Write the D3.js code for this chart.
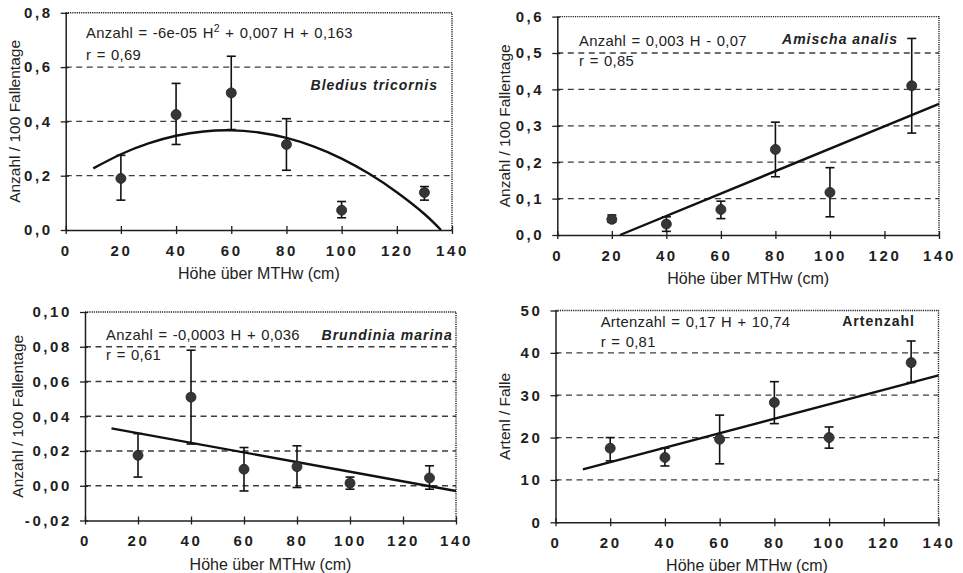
<!DOCTYPE html>
<html><head><meta charset="utf-8">
<script src="https://cdn.jsdelivr.net/npm/d3@7/dist/d3.min.js"></script>
<style>
html,body{margin:0;padding:0;background:#fff;}
svg{display:block;font-family:"Liberation Sans",Arial,sans-serif;}
</style></head>
<body>
<svg id="chart" width="963" height="573"></svg>
<script>
// ---------- data ----------
const heights = [20, 40, 60, 80, 100, 130];
const xTickValues = [0, 20, 40, 60, 80, 100, 120, 140];
const xTitle = "Höhe über MTHw (cm)";

// Bledius tricornis
const blediusMean = [0.19, 0.425, 0.505, 0.315, 0.073, 0.138];
const blediusLow  = [0.11, 0.315, 0.37, 0.22, 0.045, 0.11];
const blediusHigh = [0.275, 0.54, 0.64, 0.41, 0.105, 0.16];
const blediusFitH = [10, 20, 30, 40, 50, 60, 70, 80, 90, 100, 110, 120, 130, 136];
const blediusFitY = [0.227, 0.279, 0.319, 0.347, 0.363, 0.367, 0.359, 0.339, 0.307, 0.263, 0.207, 0.139, 0.059, 0.0];
const blediusYTicks = [0, 0.2, 0.4, 0.6, 0.8];

// Amischa analis
const amischaMean = [0.043, 0.03, 0.07, 0.235, 0.117, 0.41];
const amischaLow  = [0.035, 0.01, 0.045, 0.16, 0.05, 0.28];
const amischaHigh = [0.055, 0.05, 0.093, 0.31, 0.185, 0.54];
const amischaFitH = [23, 140];
const amischaFitY = [0.0, 0.36];
const amischaYTicks = [0, 0.1, 0.2, 0.3, 0.4, 0.5, 0.6];

// Brundinia marina
const brundiniaMean = [0.0175, 0.051, 0.0095, 0.011, 0.0015, 0.0045];
const brundiniaLow  = [0.005, 0.024, -0.003, -0.001, -0.002, -0.002];
const brundiniaHigh = [0.03, 0.078, 0.022, 0.023, 0.005, 0.0115];
const brundiniaFitH = [10, 140];
const brundiniaFitY = [0.033, -0.003];
const brundiniaYTicks = [-0.02, 0, 0.02, 0.04, 0.06, 0.08, 0.10];

// Artenzahl
const artenMean = [17.5, 15.3, 19.6, 28.3, 20.0, 37.7];
const artenLow  = [14.5, 13.3, 13.8, 23.3, 17.5, 33.0];
const artenHigh = [20.0, 17.5, 25.3, 33.2, 22.5, 42.8];
const artenFitH = [10, 140];
const artenFitY = [12.5, 34.7];
const artenYTicks = [0, 10, 20, 30, 40, 50];

// ---------- panels (layout separate from data) ----------
const svg = d3.select("#chart");
const comma = (fmt) => (v) => d3.format(fmt)(v).replace(".", ",").replace("−", "-");

const panels = [
  { box:[65.7, 452, 12.8, 230], yDomain:[0, 0.8], yTicks:blediusYTicks, fmt:comma(".1f"),
    mean:blediusMean, low:blediusLow, high:blediusHigh, fitH:blediusFitH, fitY:blediusFitY, curve:true,
    yTitle:"Anzahl / 100 Fallentage", yTitleX:15,
    eq:"Anzahl = -6e-05 H", eqSup:true, eqRest:" + 0,007 H + 0,163", eqPos:[86, 38], r:"r = 0,69", rY:60,
    species:"Bledius tricornis", spPos:[438, 90], italic:true },
  { box:[557.3, 939, 16.6, 235], yDomain:[0, 0.6], yTicks:amischaYTicks, fmt:comma(".1f"),
    mean:amischaMean, low:amischaLow, high:amischaHigh, fitH:amischaFitH, fitY:amischaFitY,
    yTitle:"Anzahl / 100 Fallentage", yTitleX:505,
    eq:"Anzahl = 0,003 H - 0,07", eqPos:[579, 46], r:"r = 0,85", rY:66,
    species:"Amischa analis", spPos:[898, 44], italic:true },
  { box:[85, 456, 312, 520.5], yDomain:[-0.02, 0.10], yTicks:brundiniaYTicks, fmt:comma(".2f"),
    mean:brundiniaMean, low:brundiniaLow, high:brundiniaHigh, fitH:brundiniaFitH, fitY:brundiniaFitY,
    yTitle:"Anzahl / 100 Fallentage", yTitleX:18,
    eq:"Anzahl = -0,0003 H + 0,036", eqPos:[106, 340], r:"r = 0,61", rY:360,
    species:"Brundinia marina", spPos:[452.7, 340], italic:true },
  { box:[555.5, 938.5, 310.5, 522.3], yDomain:[0, 50], yTicks:artenYTicks, fmt:d3.format("d"),
    mean:artenMean, low:artenLow, high:artenHigh, fitH:artenFitH, fitY:artenFitY,
    yTitle:"Artenl / Falle", yTitleX:505,
    eq:"Artenzahl = 0,17 H + 10,74", eqPos:[600.7, 327], r:"r = 0,81", rY:347,
    species:"Artenzahl", spPos:[915, 326], italic:false }
];

const ink = "#1e1e1e";

panels.forEach(p => {
  const [L, R, T, B] = p.box;
  const x = d3.scaleLinear().domain([0, 140]).range([L, R]);
  const y = d3.scaleLinear().domain(p.yDomain).range([B, T]);
  const g = svg.append("g");

  // gridlines (dashed) for interior ticks
  g.selectAll("line.grid").data(p.yTicks.filter(v => v > p.yDomain[0] + 1e-9 && v < p.yDomain[1] - 1e-9))
    .enter().append("line")
    .attr("x1", L).attr("x2", R).attr("y1", d => y(d)).attr("y2", d => y(d))
    .attr("stroke", "#3c3c3c").attr("stroke-width", 1.3).attr("stroke-dasharray", "6,4.5");

  // dotted top and right border
  g.append("path").attr("d", `M${L},${T}H${R}V${B}`)
    .attr("fill", "none").attr("stroke", "#222").attr("stroke-width", 1.4).attr("stroke-dasharray", "1.2,1");

  // axes
  const yAxis = d3.axisLeft(y).tickValues(p.yTicks).tickFormat(p.fmt).tickSizeInner(5).tickSizeOuter(0).tickPadding(8);
  const ya = g.append("g").attr("transform", `translate(${L},0)`).call(yAxis);
  const xAxis = d3.axisBottom(x).tickValues(xTickValues).tickFormat(d3.format("d")).tickSizeInner(4).tickSizeOuter(0).tickPadding(11);
  const xa = g.append("g").attr("transform", `translate(0,${B})`).call(xAxis);
  [ya, xa].forEach(a => {
    a.select(".domain").attr("stroke", ink).attr("stroke-width", 1.5);
    a.selectAll(".tick line").attr("stroke", ink).attr("stroke-width", 1.3);
    a.selectAll(".tick text").attr("fill", ink).attr("font-size", 15).attr("font-weight", "bold")
      .attr("letter-spacing", "2.6px").attr("font-family", "Liberation Sans, Arial, sans-serif");
  });
  ya.selectAll(".tick line").attr("x1", 3).attr("x2", -5);
  xa.selectAll(".tick line").attr("y1", -4).attr("y2", 4);

  // x title
  g.append("text").attr("x", (L + R) / 2).attr("y", B + 49).attr("text-anchor", "middle")
    .attr("font-size", 16).attr("fill", "#222").text(xTitle);
  // y title
  g.append("text").attr("transform", `translate(${p.yTitleX + 5},${(T + B) / 2}) rotate(-90)`)
    .attr("text-anchor", "middle").attr("font-size", 15.5).attr("fill", "#222").text(p.yTitle);

  // fit line / curve
  const fitPts = p.fitH.map((h, i) => [h, p.fitY[i]]);
  g.append("path").datum(fitPts)
    .attr("d", d3.line().x(d => x(d[0])).y(d => y(d[1])).curve(p.curve ? d3.curveNatural : d3.curveLinear))
    .attr("fill", "none").attr("stroke", "#111").attr("stroke-width", 2.4);

  // error bars
  const pts = heights.map((h, i) => ({ h, m: p.mean[i], lo: p.low[i], hi: p.high[i] }));
  const eb = g.selectAll("g.eb").data(pts).enter().append("g");
  eb.append("line").attr("x1", d => x(d.h)).attr("x2", d => x(d.h)).attr("y1", d => y(d.lo)).attr("y2", d => y(d.hi))
    .attr("stroke", "#111").attr("stroke-width", 1.6);
  eb.append("line").attr("x1", d => x(d.h) - 4.5).attr("x2", d => x(d.h) + 4.5).attr("y1", d => y(d.hi)).attr("y2", d => y(d.hi))
    .attr("stroke", "#111").attr("stroke-width", 1.6);
  eb.append("line").attr("x1", d => x(d.h) - 4.5).attr("x2", d => x(d.h) + 4.5).attr("y1", d => y(d.lo)).attr("y2", d => y(d.lo))
    .attr("stroke", "#111").attr("stroke-width", 1.6);
  eb.append("circle").attr("cx", d => x(d.h)).attr("cy", d => y(d.m)).attr("r", 5)
    .attr("fill", "#363636").attr("stroke", "#222").attr("stroke-width", 0.8);

  // equation
  const eq = g.append("text").attr("x", p.eqPos[0]).attr("y", p.eqPos[1])
    .attr("font-size", 14.8).attr("fill", "#222").attr("letter-spacing", "0.3px").attr("word-spacing", "1px");
  eq.append("tspan").text(p.eq);
  if (p.eqSup) {
    eq.append("tspan").attr("dy", -6).attr("font-size", 10.5).text("2");
    eq.append("tspan").attr("dy", 6).text(p.eqRest);
  }
  g.append("text").attr("x", p.eqPos[0]).attr("y", p.rY)
    .attr("font-size", 14.8).attr("fill", "#222").attr("letter-spacing", "0.3px").attr("word-spacing", "1px").text(p.r);
  // species label
  g.append("text").attr("x", p.spPos[0]).attr("y", p.spPos[1]).attr("text-anchor", "end")
    .attr("font-size", 14).attr("font-weight", "bold").attr("font-style", p.italic ? "italic" : "normal")
    .attr("letter-spacing", "1px").attr("fill", "#222").text(p.species);
});
</script>
</body></html>
